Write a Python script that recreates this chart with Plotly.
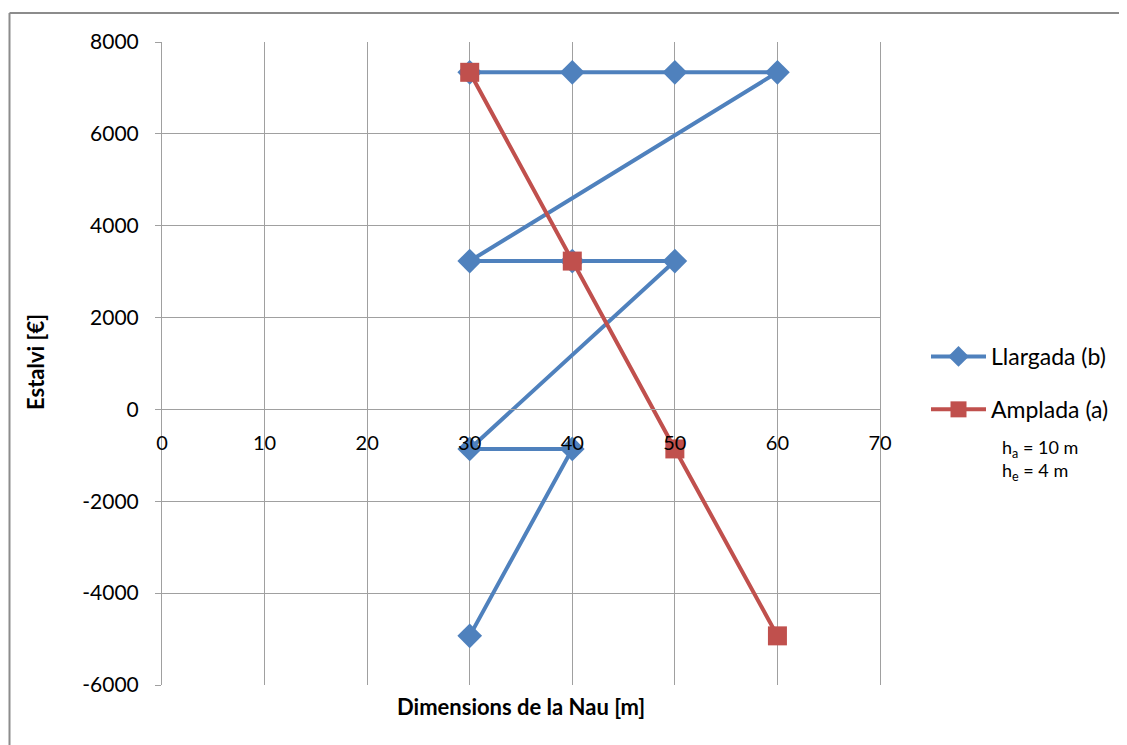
import plotly.graph_objects as go

# Data
llargada_x = [30, 40, 30, 50, 40, 30, 60, 50, 40, 30]
llargada_y = [-4930, -860, -860, 3230, 3230, 3230, 7340, 7340, 7340, 7340]
amplada_x = [30, 40, 50, 60]
amplada_y = [7340, 3230, -860, -4930]
x_ticks = [0, 10, 20, 30, 40, 50, 60, 70]
y_ticks = [-6000, -4000, -2000, 0, 2000, 4000, 6000, 8000]
y_ticktext = ["-6000", "-4000", "-2000", "0", "2000", "4000", "6000", "8000"]

BLUE = "#4F81BD"
RED = "#C0504D"
FONT = "Lato"

fig = go.Figure()
fig.add_trace(go.Scatter(
    x=llargada_x, y=llargada_y, mode="lines+markers", name="Llargada (b)",
    legendgroup="b",
    line=dict(color=BLUE, width=4),
    marker=dict(symbol="diamond", size=19, color=BLUE),
))
fig.add_trace(go.Scatter(
    x=amplada_x, y=amplada_y, mode="lines+markers", name="Amplada (a)",
    legendgroup="a",
    line=dict(color=RED, width=4),
    marker=dict(symbol="square", size=19, color=RED),
))

OFF = 8  # page body margin
W, H = 1127 - OFF, 745 - OFF
L, T = 162 - OFF, 42 - OFF
R = OFF + W - 880
B = OFF + H - 685
pw, ph = W - L - R, H - T - B


def px(xp):
    return (xp - 162) / pw


def py(yp):
    return (685 - yp) / ph


fig.update_layout(
    width=W, height=H,
    margin=dict(l=L, r=R, t=T, b=B),
    paper_bgcolor="white", plot_bgcolor="white",
    font=dict(family=FONT, size=20, color="#000000"),
    showlegend=True,
    legend=dict(x=px(926), y=py(335), xanchor="left", yanchor="top",
                font=dict(size=23), traceorder="grouped", tracegroupgap=20,
                itemwidth=55, bgcolor="rgba(0,0,0,0)"),
    xaxis=dict(
        range=[0, 70], tickvals=x_ticks, showgrid=True, gridcolor="#A0A0A0", gridwidth=1,
        zeroline=False, showline=True, linecolor="#A0A0A0", mirror=True,
        anchor="free", position=6 / 14, ticks="", ticklabelstandoff=16,
        tickfont=dict(size=20),
    ),
    yaxis=dict(
        range=[-6000, 8000], tickvals=y_ticks, ticktext=y_ticktext,
        showgrid=True, gridcolor="#A0A0A0", gridwidth=1,
        zeroline=False, showline=True, linecolor="#A0A0A0", mirror=True,
        ticks="outside", ticklen=6, tickcolor="#A0A0A0", ticklabelstandoff=12,
        tickfont=dict(size=21),
    ),
)

fig.add_annotation(text="<b>Dimensions de la Nau [m]</b>", xref="paper", yref="paper",
                   x=0.5, y=py(706), showarrow=False, font=dict(size=22),
                   xanchor="center", yanchor="middle")
fig.add_annotation(text="<b>Estalvi [€]</b>", xref="paper", yref="paper",
                   x=px(35), y=py(362), showarrow=False, textangle=-90,
                   font=dict(size=22), xanchor="center", yanchor="middle")
fig.add_annotation(text="h<sub>a</sub> = 10 m<br>h<sub>e</sub> = 4 m", xref="paper", yref="paper",
                   x=px(1000), y=py(434), showarrow=False, align="left",
                   font=dict(size=18), xanchor="left", yanchor="top")

# outer chart frame (left and top edges visible)
fig.add_shape(type="line", xref="paper", yref="paper",
              x0=px(9.5), x1=px(9.5), y0=py(760), y1=py(13),
              line=dict(color="#8C8C8C", width=2), layer="below")
fig.add_shape(type="line", xref="paper", yref="paper",
              x0=px(9.5), x1=px(1140), y0=py(13), y1=py(13),
              line=dict(color="#8C8C8C", width=2), layer="below")

fig.write_html("out.html")
